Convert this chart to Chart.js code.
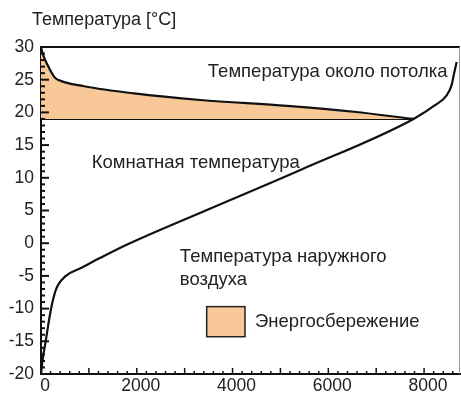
<!DOCTYPE html>
<html>
<head>
<meta charset="utf-8">
<script src="https://cdn.jsdelivr.net/npm/chart.js@4/dist/chart.umd.min.js"></script>
<style>
    html, body { margin: 0; padding: 0; background: #fff; }
    #wrap { width: 461px; height: 394px; }
</style>
</head>
<body>
<div id="wrap"><canvas id="chart"></canvas></div>
<script>
const ceilingX = [0, 35, 140, 280, 380, 900, 1950, 3330, 5140, 6530, 7780];
const ceilingY = [30, 29, 27.2, 25.4, 24.9, 24.0, 22.9, 21.9, 21.0, 20.1, 19];

const roomX = [0, 7780];
const roomY = [19, 19];

const outdoorX = [0, 35, 104, 208, 312, 520, 833, 1250, 1800, 3440, 5417, 7780, 8229, 8472, 8576, 8625, 8680];
const outdoorY = [-20, -17.8, -14.7, -10.1, -7.1, -5.0, -3.8, -2.2, -0.2, 5.0, 11.2, 19, 21.1, 22.6, 24.2, 25.9, 27.7];

const yTicks = [30, 25, 20, 15, 10, 5, 0, -5, -10, -15, -20];
const xTicks = [0, 2000, 4000, 6000, 8000];

const FONT = "'Liberation Sans', Arial, sans-serif";
const TEXT = "#222";
const SAVING = "#f8c898";

function points(xs, ys) {
    return xs.map((x, i) => ({ x: x, y: ys[i] }));
}

// labels placed in data coordinates
const labels = [
    { text: "Температура около потолка", x: 8490, y: 26.2, align: "right" },
    { text: "Комнатная температура", x: 1060, y: 12.3, align: "left" },
    { text: "Температура наружного", x: 2900, y: -2.1, align: "left" },
    { text: "воздуха", x: 2900, y: -5.6, align: "left" },
    { text: "Энергосбережение", x: 4470, y: -12.05, align: "left" }
];

const decorations = {
    id: "decorations",
    afterDatasetsDraw(chart) {
        const { ctx, chartArea: area, scales } = chart;
        const xs = scales.x, ys = scales.y;
        ctx.save();

        // top and right frame
        ctx.strokeStyle = "#111";
        ctx.lineWidth = 2;
        ctx.beginPath();
        ctx.moveTo(area.left, area.top);
        ctx.lineTo(area.right, area.top);
        ctx.stroke();
        ctx.strokeStyle = "#999";
        ctx.lineWidth = 1;
        ctx.beginPath();
        ctx.moveTo(area.right - 0.5, area.top);
        ctx.lineTo(area.right - 0.5, area.bottom);
        ctx.stroke();

        // inward ticks
        ctx.strokeStyle = "#111";
        ctx.lineWidth = 2;
        for (let v = -20; v <= 30; v++) {
            const py = ys.getPixelForValue(v);
            const len = v % 5 === 0 ? 8 : 4;
            ctx.beginPath();
            ctx.moveTo(area.left, py);
            ctx.lineTo(area.left + len, py);
            ctx.stroke();
        }
        ctx.lineWidth = 1.5;
        for (let v = 200; v <= 8600; v += 200) {
            const px = xs.getPixelForValue(v);
            const len = v % 1000 === 0 ? 6 : 3;
            ctx.beginPath();
            ctx.moveTo(px, area.bottom);
            ctx.lineTo(px, area.bottom - len);
            ctx.stroke();
        }

        // legend swatch
        const bx0 = xs.getPixelForValue(3460), bx1 = xs.getPixelForValue(4260);
        const by0 = ys.getPixelForValue(-9.7), by1 = ys.getPixelForValue(-14.3);
        ctx.fillStyle = SAVING;
        ctx.fillRect(bx0, by0, bx1 - bx0, by1 - by0);
        ctx.strokeStyle = "#222";
        ctx.lineWidth = 1.5;
        ctx.strokeRect(bx0, by0, bx1 - bx0, by1 - by0);

        // texts
        ctx.fillStyle = TEXT;
        ctx.font = "18.5px " + FONT;
        ctx.textBaseline = "middle";
        labels.forEach(l => {
            ctx.textAlign = l.align;
            ctx.fillText(l.text, xs.getPixelForValue(l.x), ys.getPixelForValue(l.y));
        });

        // axis title
        ctx.font = "18px " + FONT;
        ctx.textAlign = "left";
        ctx.fillText("Температура [°C]", area.left - 9, 20);
        ctx.restore();
    }
};

new Chart(document.getElementById("chart").getContext("2d"), {
    type: "line",
    data: {
        datasets: [
            {
                label: "Температура около потолка",
                data: points(ceilingX, ceilingY),
                borderColor: "#111",
                borderWidth: 2.2,
                backgroundColor: SAVING,
                fill: { value: 19 },
                pointRadius: 0,
                cubicInterpolationMode: "monotone"
            },
            {
                label: "Комнатная температура",
                data: points(roomX, roomY),
                borderColor: "#111",
                borderWidth: 2,
                fill: false,
                pointRadius: 0
            },
            {
                label: "Температура наружного воздуха",
                data: points(outdoorX, outdoorY),
                borderColor: "#111",
                borderWidth: 2.2,
                fill: false,
                pointRadius: 0,
                cubicInterpolationMode: "monotone"
            }
        ]
    },
    options: {
        responsive: true,
        maintainAspectRatio: false,
        animation: false,
        events: [],
        layout: { padding: { top: 47, right: 1, left: 0, bottom: 0 } },
        plugins: {
            legend: { display: false },
            tooltip: { enabled: false }
        },
        scales: {
            x: {
                type: "linear",
                min: 0,
                max: 8750,
                afterFit(scale) { scale.height = 20; },
                afterBuildTicks(scale) { scale.ticks = xTicks.map(v => ({ value: v })); },
                grid: { display: false, drawTicks: false },
                border: { display: true, color: "#111", width: 2 },
                ticks: {
                    color: TEXT,
                    padding: 2,
                    labelOffset: 4,
                    maxRotation: 0,
                    font: { family: FONT, size: 17.5 },
                    callback: v => String(v)
                }
            },
            y: {
                type: "linear",
                min: -20,
                max: 30,
                afterFit(scale) { scale.width = 41; },
                afterBuildTicks(scale) { scale.ticks = yTicks.map(v => ({ value: v })); },
                grid: { display: false, drawTicks: false },
                border: { display: true, color: "#111", width: 2 },
                ticks: {
                    color: TEXT,
                    padding: 7,
                    font: { family: FONT, size: 17.5 },
                    callback: v => String(v)
                }
            }
        }
    },
    plugins: [decorations]
});
</script>
</body>
</html>
